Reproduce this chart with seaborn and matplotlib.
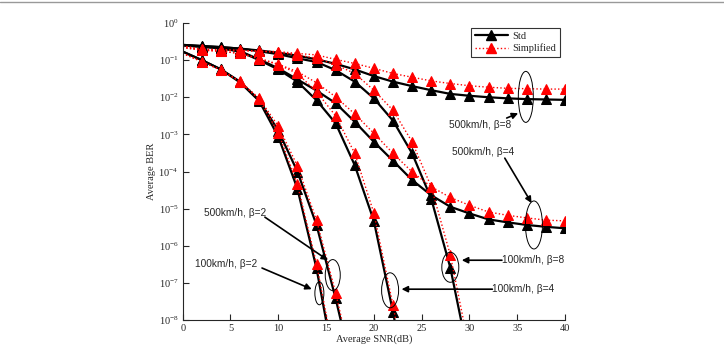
import numpy as np
import pandas as pd
import matplotlib
matplotlib.use('Agg')
import matplotlib.pyplot as plt
from matplotlib.patches import Ellipse
from matplotlib.lines import Line2D
from matplotlib.ticker import LogLocator, LogFormatterSciNotation, NullLocator
import seaborn as sns

sns.set_style('ticks')
plt.rcParams['font.family'] = ['Liberation Serif', 'DejaVu Serif']
plt.rcParams['mathtext.fontset'] = 'stix'
#####################################################################
# average SNR (dB) and log10(BER)
snr = list(range(0, 42, 2))

std_500_b8 = [-0.59, -0.62, -0.65, -0.69, -0.74, -0.80, -0.88, -0.98, -1.10, -1.25, -1.43,
              -1.58, -1.70, -1.81, -1.91, -1.96, -2.00, -2.03, -2.05, -2.06, -2.07]
sim_500_b8 = [-0.62, -0.71, -0.72, -0.74, -0.76, -0.77, -0.82, -0.86, -0.98, -1.09, -1.22,
              -1.36, -1.46, -1.56, -1.63, -1.69, -1.73, -1.76, -1.77, -1.78, -1.78]
std_500_b4 = [-0.60, -0.64, -0.68, -0.76, -0.98, -1.22, -1.52, -1.82, -2.16, -2.66, -3.20,
              -3.71, -4.23, -4.64, -4.95, -5.13, -5.29, -5.37, -5.44, -5.49, -5.53]
sim_500_b4 = [-0.66, -0.73, -0.76, -0.82, -0.95, -1.11, -1.31, -1.61, -1.99, -2.45, -2.97,
              -3.51, -4.01, -4.41, -4.70, -4.91, -5.09, -5.18, -5.25, -5.31, -5.33]
std_100_b8 = [-0.59, -0.62, -0.65, -0.69, -0.76, -0.84, -0.95, -1.05, -1.27, -1.58, -2.03,
              -2.63, -3.51, -4.73, -6.59, -9.10]
sim_100_b8 = [-0.62, -0.71, -0.72, -0.74, -0.76, -0.79, -0.86, -0.95, -1.12, -1.36, -1.81,
              -2.35, -3.20, -4.41, -6.25, -8.80]
std_100_b4 = [-0.60, -0.64, -0.68, -0.77, -1.00, -1.25, -1.58, -2.08, -2.70, -3.83, -5.33,
              -7.78, -10.5]
sim_100_b4 = [-0.66, -0.73, -0.76, -0.82, -0.97, -1.12, -1.36, -1.85, -2.50, -3.51, -5.12,
              -7.60, -10.3]
std_500_b2 = [-0.77, -1.00, -1.25, -1.58, -2.08, -2.90, -4.00, -5.44, -7.42, -9.60]
sim_500_b2 = [-0.82, -1.04, -1.27, -1.57, -2.03, -2.78, -3.85, -5.31, -7.27, -9.50]
std_100_b2 = [-0.77, -1.00, -1.25, -1.60, -2.10, -3.06, -4.46, -6.61, -9.40]
sim_100_b2 = [-0.82, -1.04, -1.27, -1.58, -2.06, -2.95, -4.34, -6.48, -9.20]

curves = [('500b8', std_500_b8, sim_500_b8), ('500b4', std_500_b4, sim_500_b4),
          ('100b8', std_100_b8, sim_100_b8), ('100b4', std_100_b4, sim_100_b4),
          ('500b2', std_500_b2, sim_500_b2), ('100b2', std_100_b2, sim_100_b2)]

# annotation: label, text pos, arrow tail, arrow head, ellipse centre, ellipse size (px)
notes = [('500km/h, β=8', (31.1, -2.75), (33.9, -2.56), (35.1, -2.43), (35.9, -1.99), (15, 51)),
         ('500km/h, β=4', (31.4, -3.48), (33.7, -3.64), (36.5, -4.85), (36.75, -5.44), (17, 48)),
         ('100km/h, β=8', (33.4, -6.39), (33.4, -6.39), (29.2, -6.39), (28.0, -6.58), (17, 30)),
         ('100km/h, β=4', (32.4, -7.17), (32.4, -7.17), (22.9, -7.17), (21.7, -7.20), (17, 35)),
         ('500km/h, β=2', (5.5, -5.12), (8.6, -5.23), (15.2, -6.39), (15.7, -6.79), (15, 31)),
         ('100km/h, β=2', (4.55, -6.5), (8.3, -6.6), (13.5, -7.17), (14.3, -7.28), (9, 23))]
#####################################################################
fig = plt.figure(figsize=(7.24, 3.55), dpi=100)
ax = fig.add_axes([182.7/724, 1-320/355, (565-182.7)/724, (320-23)/355])

ms = 7.2
for name, std, sim in curves:
    d_std = pd.DataFrame({'snr': snr[:len(std)], 'ber': 10**np.array(std)})
    sns.lineplot(data=d_std, x='snr', y='ber', ax=ax, color='black', lw=1.6,
                 marker='^', markersize=ms, markeredgecolor='black',
                 markevery=list(range(1, len(std))), estimator=None)
for name, std, sim in curves:
    d_sim = pd.DataFrame({'snr': snr[:len(sim)], 'ber': 10**np.array(sim)})
    sns.lineplot(data=d_sim, x='snr', y='ber', ax=ax, color='red', lw=1.0,
                 linestyle=(0, (1, 1.6)), marker='^', markersize=ms, markeredgecolor='red',
                 markevery=list(range(1, len(sim))), estimator=None)

ax.set_yscale('log')
ax.set_xlim(0, 40)
ax.set_ylim(1e-8, 1)
ax.set_xticks(range(0, 45, 5))
ax.yaxis.set_major_locator(LogLocator(base=10, numticks=20))
ax.yaxis.set_major_formatter(LogFormatterSciNotation())
ax.yaxis.set_minor_locator(NullLocator())
ax.tick_params(direction='in', length=4, width=0.8, labelsize=7.5, pad=3)
sns.despine(ax=ax)
for s in ['left', 'bottom']:
    ax.spines[s].set_linewidth(0.8)
ax.set_xlabel('Average SNR(dB)', fontsize=7.5, labelpad=1)
ax.set_ylabel('Average BER', fontsize=7.5, labelpad=2)

handles = [Line2D([], [], color='black', lw=1.6, marker='^', markersize=ms),
           Line2D([], [], color='red', lw=1.0, linestyle=(0, (1, 1.6)), marker='^', markersize=ms)]
leg = ax.legend(handles, ['Std', 'Simplified'], loc='upper right', bbox_to_anchor=(1.0, 1.0),
                fontsize=7.5, frameon=True, fancybox=False, handlelength=3.2,
                borderpad=0.35, labelspacing=0.25, handletextpad=0.4)
leg.get_frame().set_edgecolor('black')
leg.get_frame().set_linewidth(0.8)

ax_w, ax_h = 565 - 182.7, 320 - 23
for label, tpos, tail, head, centre, size in notes:
    ha = 'left' if tail == tpos else 'center'
    ax.text(tpos[0], 10**tpos[1], label, fontsize=7.3, family=['Liberation Sans', 'DejaVu Sans'],
            ha=ha, va='center')
    ax.annotate('', xy=(head[0], 10**head[1]), xytext=(tail[0], 10**tail[1]),
                arrowprops=dict(arrowstyle='-|>', color='black', lw=1.2, mutation_scale=9,
                                shrinkA=0, shrinkB=0))
    c = ax.transAxes.inverted().transform(ax.transData.transform((centre[0], 10**centre[1])))
    ax.add_patch(Ellipse(c, size[0]/ax_w, size[1]/ax_h, transform=ax.transAxes,
                         fill=False, edgecolor='black', lw=0.7, zorder=5))

# thin grey rule along the top edge of the page
fig.lines.append(Line2D([0, 1], [1 - 1.5/355, 1 - 1.5/355], transform=fig.transFigure,
                        color='#999999', lw=1.0))
plt.savefig('out.png', dpi=100)
